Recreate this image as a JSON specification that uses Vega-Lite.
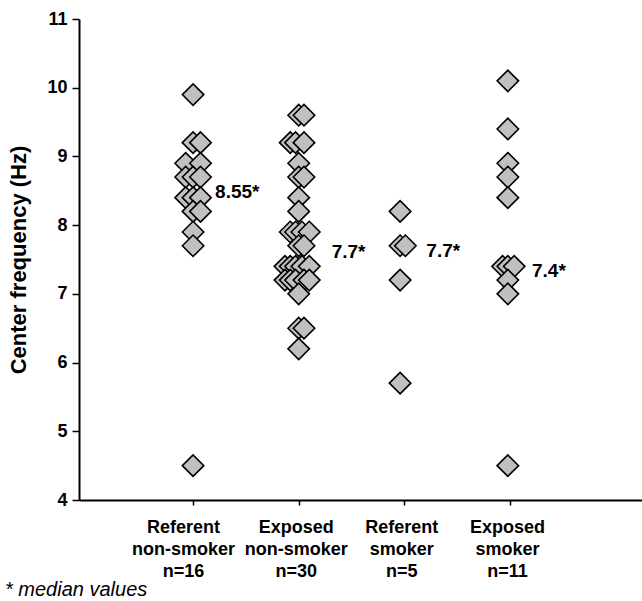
{
  "$schema": "https://vega.github.io/schema/vega-lite/v6.json",
  "width": 563,
  "height": 481,
  "autosize": {"type": "none"},
  "padding": {"left": 79, "top": 19, "right": 0, "bottom": 101},
  "background": "white",
  "config": {"view": {"stroke": null}, "font": "Liberation Sans"},
  "title": {"text": "* median values", "orient": "bottom", "anchor": "start", "frame": "group", "fontStyle": "italic", "fontWeight": "normal", "fontSize": 20, "font": "Liberation Sans", "dx": -74, "offset": 0, "color": "black"},
  "datasets": {
    "medians": [
      {"x": 1, "y": 8.55, "t": "8.55*"},
      {"x": 2, "y": 7.7, "t": "7.7*"},
      {"x": 3, "y": 7.7, "t": "7.7*"},
      {"x": 4, "y": 7.4, "t": "7.4*"}
    ]
  },
  "layer": [
    {
      "data": {"values": [
        {"g": "Referent non-smoker", "x": 1.0, "y": 9.9},
        {"g": "Referent non-smoker", "x": 1.0, "y": 9.2},
        {"g": "Referent non-smoker", "x": 1.07, "y": 9.2},
        {"g": "Referent non-smoker", "x": 0.93, "y": 8.9},
        {"g": "Referent non-smoker", "x": 1.07, "y": 8.9},
        {"g": "Referent non-smoker", "x": 0.93, "y": 8.7},
        {"g": "Referent non-smoker", "x": 1.0, "y": 8.7},
        {"g": "Referent non-smoker", "x": 1.07, "y": 8.7},
        {"g": "Referent non-smoker", "x": 0.93, "y": 8.4},
        {"g": "Referent non-smoker", "x": 1.0, "y": 8.4},
        {"g": "Referent non-smoker", "x": 1.07, "y": 8.4},
        {"g": "Referent non-smoker", "x": 1.0, "y": 8.2},
        {"g": "Referent non-smoker", "x": 1.07, "y": 8.2},
        {"g": "Referent non-smoker", "x": 1.0, "y": 7.9},
        {"g": "Referent non-smoker", "x": 1.0, "y": 7.7},
        {"g": "Referent non-smoker", "x": 1.0, "y": 4.5},
        {"g": "Exposed non-smoker", "x": 2.0, "y": 9.6},
        {"g": "Exposed non-smoker", "x": 2.05, "y": 9.6},
        {"g": "Exposed non-smoker", "x": 1.92, "y": 9.2},
        {"g": "Exposed non-smoker", "x": 1.97, "y": 9.2},
        {"g": "Exposed non-smoker", "x": 2.05, "y": 9.2},
        {"g": "Exposed non-smoker", "x": 2.0, "y": 8.9},
        {"g": "Exposed non-smoker", "x": 2.0, "y": 8.7},
        {"g": "Exposed non-smoker", "x": 2.05, "y": 8.7},
        {"g": "Exposed non-smoker", "x": 2.0, "y": 8.4},
        {"g": "Exposed non-smoker", "x": 2.0, "y": 8.2},
        {"g": "Exposed non-smoker", "x": 1.92, "y": 7.9},
        {"g": "Exposed non-smoker", "x": 1.97, "y": 7.9},
        {"g": "Exposed non-smoker", "x": 2.03, "y": 7.9},
        {"g": "Exposed non-smoker", "x": 2.1, "y": 7.9},
        {"g": "Exposed non-smoker", "x": 2.0, "y": 7.7},
        {"g": "Exposed non-smoker", "x": 2.05, "y": 7.7},
        {"g": "Exposed non-smoker", "x": 1.87, "y": 7.4},
        {"g": "Exposed non-smoker", "x": 1.92, "y": 7.4},
        {"g": "Exposed non-smoker", "x": 1.97, "y": 7.4},
        {"g": "Exposed non-smoker", "x": 2.03, "y": 7.4},
        {"g": "Exposed non-smoker", "x": 2.1, "y": 7.4},
        {"g": "Exposed non-smoker", "x": 1.87, "y": 7.2},
        {"g": "Exposed non-smoker", "x": 1.92, "y": 7.2},
        {"g": "Exposed non-smoker", "x": 1.97, "y": 7.2},
        {"g": "Exposed non-smoker", "x": 2.05, "y": 7.2},
        {"g": "Exposed non-smoker", "x": 2.1, "y": 7.2},
        {"g": "Exposed non-smoker", "x": 2.0, "y": 7.0},
        {"g": "Exposed non-smoker", "x": 2.0, "y": 6.5},
        {"g": "Exposed non-smoker", "x": 2.05, "y": 6.5},
        {"g": "Exposed non-smoker", "x": 2.0, "y": 6.2},
        {"g": "Referent smoker", "x": 2.96, "y": 8.2},
        {"g": "Referent smoker", "x": 2.96, "y": 7.7},
        {"g": "Referent smoker", "x": 3.01, "y": 7.7},
        {"g": "Referent smoker", "x": 2.96, "y": 7.2},
        {"g": "Referent smoker", "x": 2.96, "y": 5.7},
        {"g": "Exposed smoker", "x": 3.98, "y": 10.1},
        {"g": "Exposed smoker", "x": 3.98, "y": 9.4},
        {"g": "Exposed smoker", "x": 3.98, "y": 8.9},
        {"g": "Exposed smoker", "x": 3.98, "y": 8.7},
        {"g": "Exposed smoker", "x": 3.98, "y": 8.4},
        {"g": "Exposed smoker", "x": 3.93, "y": 7.4},
        {"g": "Exposed smoker", "x": 3.98, "y": 7.4},
        {"g": "Exposed smoker", "x": 4.04, "y": 7.4},
        {"g": "Exposed smoker", "x": 3.98, "y": 7.2},
        {"g": "Exposed smoker", "x": 3.98, "y": 7.0},
        {"g": "Exposed smoker", "x": 3.98, "y": 4.5}
      ]},
      "mark": {"type": "point", "shape": "diamond", "filled": true, "fill": "#c0c0c0", "stroke": "black", "strokeWidth": 1.6, "size": 460, "opacity": 1},
      "encoding": {
        "x": {
          "field": "x", "type": "quantitative",
          "scale": {"domain": [-0.08, 5.25], "nice": false, "zero": false},
          "axis": {
            "values": [1, 2, 3, 4], "title": null, "grid": false,
            "domainColor": "black", "domainWidth": 2,
            "tickColor": "black", "tickWidth": 1.5, "tickSize": 5,
            "labelExpr": "datum.value == 1 ? ['Referent', 'non-smoker', 'n=16'] : datum.value == 2 ? ['Exposed', 'non-smoker', 'n=30'] : datum.value == 3 ? ['Referent', 'smoker', 'n=5'] : ['Exposed', 'smoker', 'n=11']",
            "labelOffset": {"condition": {"test": "datum.value == 1", "value": -10}, "value": -3},
            "labelFont": "Liberation Sans", "labelFontWeight": "bold", "labelFontSize": 18, "labelColor": "black",
            "labelLineHeight": 22, "labelPadding": 13, "labelBaseline": "top",
            "labelFlush": false, "labelOverlap": false, "labelBound": false
          }
        },
        "y": {
          "field": "y", "type": "quantitative",
          "scale": {"domain": [4, 11], "nice": false, "zero": false},
          "axis": {
            "values": [4, 5, 6, 7, 8, 9, 10, 11], "format": "d", "grid": false,
            "title": "Center frequency (Hz)", "titleFont": "Liberation Sans", "titleFontWeight": "bold", "titleFontSize": 22, "titleColor": "black", "titlePadding": 16,
            "domainColor": "black", "domainWidth": 2,
            "tickColor": "black", "tickWidth": 1.5, "tickSize": 7,
            "labelFont": "Liberation Sans", "labelFontWeight": "bold", "labelFontSize": 18, "labelColor": "black", "labelPadding": 5,
            "labelFlush": false, "labelOverlap": false
          }
        }
      }
    },
    {
      "data": {"name": "medians"},
      "transform": [{"filter": "datum.x != 2"}],
      "mark": {"type": "text", "align": "left", "baseline": "middle", "dx": 22, "dy": 5, "font": "Liberation Sans", "fontWeight": "bold", "fontSize": 19, "color": "black"},
      "encoding": {
        "x": {"field": "x", "type": "quantitative"},
        "y": {"field": "y", "type": "quantitative"},
        "text": {"field": "t"}
      }
    },
    {
      "data": {"name": "medians"},
      "transform": [{"filter": "datum.x == 2"}],
      "mark": {"type": "text", "align": "left", "baseline": "middle", "dx": 33, "dy": 6, "font": "Liberation Sans", "fontWeight": "bold", "fontSize": 19, "color": "black"},
      "encoding": {
        "x": {"field": "x", "type": "quantitative"},
        "y": {"field": "y", "type": "quantitative"},
        "text": {"field": "t"}
      }
    }
  ]
}
